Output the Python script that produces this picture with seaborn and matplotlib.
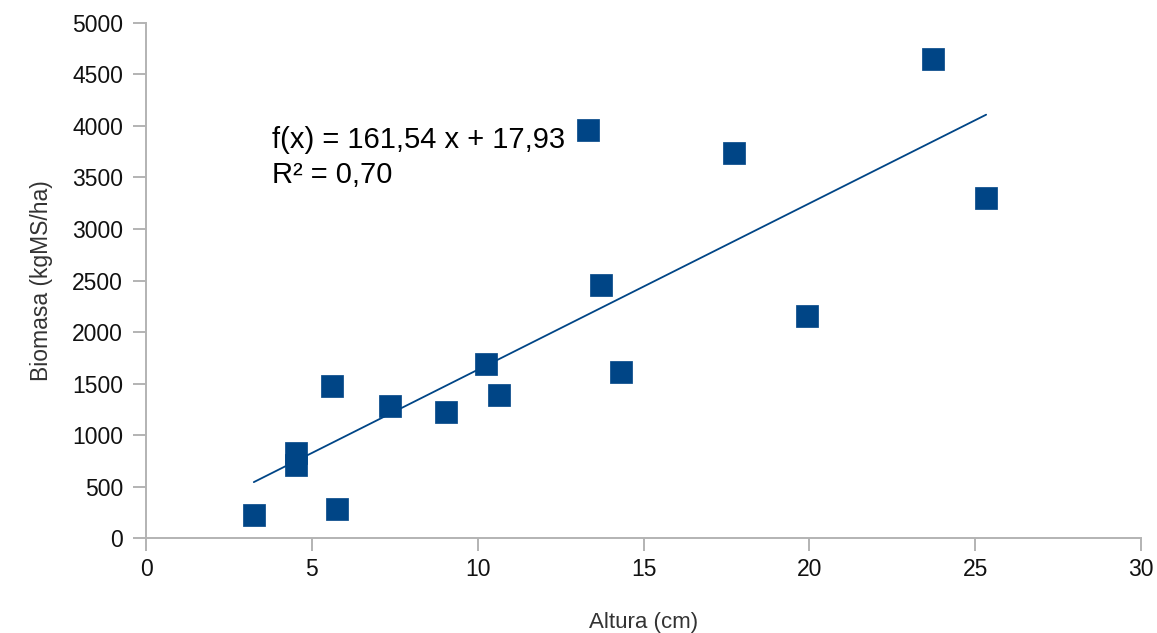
import matplotlib
matplotlib.use("Agg")
import matplotlib.pyplot as plt
import seaborn as sns
import numpy as np
import pandas as pd

altura = [3.25, 4.52, 4.52, 5.6, 5.75, 7.35, 9.04, 10.24, 10.63, 13.34, 13.73, 14.31, 17.74, 19.94, 23.73, 25.33]
biomasa = [223, 825, 709, 1476, 282, 1282, 1223, 1689, 1388, 3961, 2456, 1612, 3738, 2155, 4650, 3301]
slope = 161.54
intercept = 17.93
r2 = 0.70
x_ticks = [0, 5, 10, 15, 20, 25, 30]
y_ticks = [0, 500, 1000, 1500, 2000, 2500, 3000, 3500, 4000, 4500, 5000]

sns.set_theme(style="white")
plt.rcParams['font.family'] = ['Liberation Sans', 'DejaVu Sans']

df = pd.DataFrame({"Altura (cm)": altura, "Biomasa (kgMS/ha)": biomasa})

fig = plt.figure(figsize=(11.57, 6.33), dpi=100)
ax = fig.add_axes([0.1262, 0.150, 0.860, 0.8137])

blue = "#004586"
sns.scatterplot(data=df, x="Altura (cm)", y="Biomasa (kgMS/ha)", ax=ax,
                marker="s", s=235, color=blue, edgecolor=blue, linewidth=0.5, zorder=3)

xl = np.array([min(altura), max(altura)])
sns.lineplot(x=xl, y=slope * xl + intercept, ax=ax, color=blue, linewidth=1.3, zorder=2)

ax.set_xlim(0, 30)
ax.set_ylim(0, 5000)
ax.set_xticks(x_ticks)
ax.set_yticks(y_ticks)
ax.set_xticklabels([str(t) for t in x_ticks])
ax.set_yticklabels([str(t) for t in y_ticks])

for s in ["top", "right"]:
    ax.spines[s].set_visible(False)
for s in ["left", "bottom"]:
    ax.spines[s].set_color("#b3b3b3")
    ax.spines[s].set_linewidth(1.4)

ax.tick_params(axis="both", which="major", direction="out", length=9.5, width=1.4,
               color="#b3b3b3", labelsize=16.5, labelcolor="#111111",
               bottom=True, left=True)
ax.tick_params(axis="y", pad=7)
ax.tick_params(axis="x", pad=5)

ax.set_xlabel("Altura (cm)", fontsize=16, color="#333333", labelpad=22)
ax.set_ylabel("Biomasa (kgMS/ha)", fontsize=16.5, color="#333333", labelpad=14)

ax.text(3.8, 3860, f"f(x) = {slope:.2f} x + {intercept:.2f}".replace(".", ","),
        fontsize=21, color="black", va="center", ha="left")
ax.text(3.8, 3520, f"R² = {r2:.2f}".replace(".", ","),
        fontsize=21, color="black", va="center", ha="left")

fig.savefig("out.png", dpi=100)
